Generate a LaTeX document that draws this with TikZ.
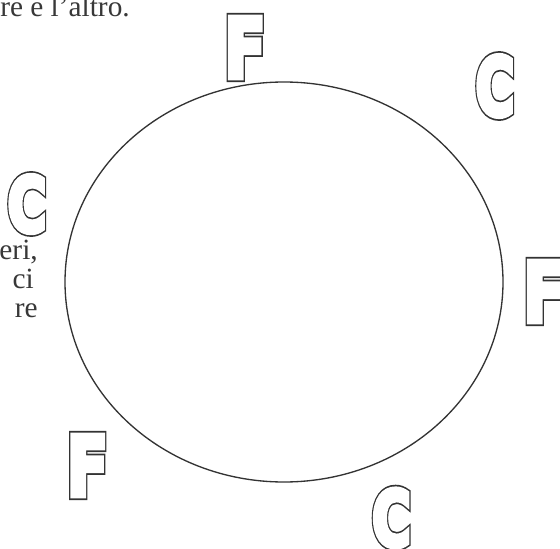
\documentclass[tikz,border=0pt]{standalone}
\usepackage{fontspec}
\setmainfont{Liberation Serif}
\newfontfamily\letterfont{DejaVu Sans}
\usepackage{graphicx}
\tikzset{
  ring/.style   = {draw=black!80, line width=1pt},
  letter/.style = {inner sep=0pt, text=black!80,
                   font=\fontsize{68}{68}\selectfont\letterfont\bfseries},
  prose/.style  = {inner sep=0pt, text=black!78,
                   font=\fontsize{22}{26}\selectfont},
}
% hollow, slightly heavier glyphs: wide dark stroke, then white fill + stroke on top
\newcommand\hollow[3]{\scalebox{#1}[#2]{%
  \special{pdf:literal direct 1 Tr 8 w}\rlap{#3}%
  \special{pdf:literal direct 2 Tr 5 w}\textcolor{white}{#3}%
  \special{pdf:literal direct 0 Tr}}}

\begin{document}
\begin{tikzpicture}[x=0.75pt, y=-0.75pt]
  \useasboundingbox (0,0) rectangle (560,549);
  \clip (0,0) rectangle (560,549);

  % =====================================================================
  % cut-off prose at the page edge
  % =====================================================================
  \node[prose, anchor=base east] (top)  at (130,17)  {re e l’altro.};
  \node[prose, anchor=base east] (eri)  at (38,259)  {eri,};
  \node[prose, anchor=base east] (ci)   at (34,288)  {ci};
  \node[prose, anchor=base east] (re)   at (38,317)  {re};

  % =====================================================================
  % the ring and the hollow letters around it
  % =====================================================================
  \draw[ring] (284,282) ellipse [x radius=219, y radius=200];

  \foreach \n/\x/\y/\c/\sx/\sy in {fTop/245/47.5/F/0.66/0.9, cNE/495/86/C/0.58/0.88,
                                   cW/27/204/C/0.58/0.83, fE/544/291.5/F/0.66/0.9,
                                   fSW/87.5/465.5/F/0.66/0.9, cS/391.5/518/C/0.58/0.84}
    \node[letter] (\n) at (\x,\y) {\hollow{\sx}{\sy}{\c}};

\end{tikzpicture}
\end{document}
